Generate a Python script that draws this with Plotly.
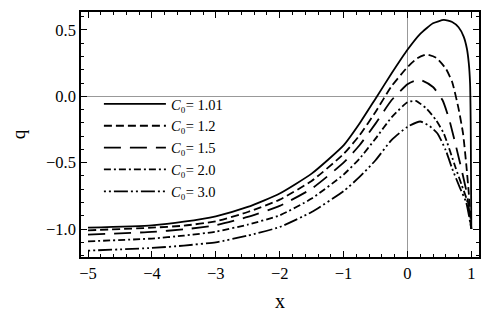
import plotly.graph_objects as go

# ---- data ----
x_101 = [-5, -4, -3.5, -3, -2.5, -2, -1.5, -1, -0.75, -0.5, -0.25, 0, 0.2, 0.4, 0.57, 0.7, 0.8, 0.88, 0.93, 0.96, 0.98, 0.99, 0.995, 1.0]
q_101 = [-0.99, -0.972, -0.945, -0.904, -0.834, -0.733, -0.583, -0.37, -0.205, -0.018, 0.171, 0.35, 0.47, 0.55, 0.575, 0.56, 0.52, 0.45, 0.36, 0.25, 0.1, -0.2, -0.6, -1.0]

x_12 = [-5, -4, -3.5, -3, -2.5, -2, -1.5, -1, -0.75, -0.5, -0.25, 0, 0.15, 0.3, 0.45, 0.6, 0.7, 0.8, 0.87, 0.92, 0.96, 1.0]
q_12 = [-1.01, -0.99, -0.975, -0.942, -0.872, -0.779, -0.638, -0.435, -0.294, -0.118, 0.075, 0.22, 0.285, 0.315, 0.29, 0.209, 0.108, -0.093, -0.28, -0.51, -0.73, -1.0]

x_15 = [-5, -4, -3.5, -3, -2.5, -2, -1.5, -1, -0.75, -0.5, -0.25, 0, 0.1, 0.22, 0.4, 0.55, 0.65, 0.75, 0.85, 0.93, 1.0]
q_15 = [-1.042, -1.022, -1.003, -0.972, -0.909, -0.826, -0.696, -0.5, -0.369, -0.206, -0.03, 0.09, 0.115, 0.12, 0.07, -0.03, -0.168, -0.357, -0.558, -0.733, -1.0]

x_20 = [-5, -4, -3.5, -3, -2.5, -2, -1.5, -1, -0.75, -0.5, -0.25, 0, 0.13, 0.3, 0.45, 0.57, 0.75, 0.85, 0.93, 1.0]
q_20 = [-1.093, -1.072, -1.05, -1.02, -0.967, -0.897, -0.771, -0.59, -0.47, -0.319, -0.16, -0.045, -0.035, -0.093, -0.181, -0.281, -0.533, -0.67, -0.78, -1.0]

x_30 = [-5, -4, -3.5, -3, -2.5, -2, -1.5, -1, -0.75, -0.5, -0.25, 0, 0.2, 0.35, 0.47, 0.6, 0.7, 0.82, 0.92, 1.0]
q_30 = [-1.163, -1.143, -1.125, -1.1, -1.05, -0.985, -0.872, -0.715, -0.608, -0.482, -0.33, -0.23, -0.19, -0.226, -0.28, -0.407, -0.545, -0.688, -0.8, -1.0]

labels = ["1.01", "1.2", "1.5", "2.0", "3.0"]
xs = [x_101, x_12, x_15, x_20, x_30]
qs = [q_101, q_12, q_15, q_20, q_30]
dashes = ["solid", "8px,4px", "17px,9px", "7px,3px,2px,3px", "2px,3px,2px,3px,14px,3px"]

x_ticks = [-5, -4, -3, -2, -1, 0, 1]
y_ticks = [0.5, 0.0, -0.5, -1.0]

FONT = "Liberation Serif, Times New Roman, serif"

fig = go.Figure()
for lab, x, q, d in zip(labels, xs, qs, dashes):
    fig.add_trace(go.Scatter(
        x=x, y=q, mode="lines",
        line=dict(color="black", width=1.8, dash=d, shape="spline", smoothing=0.5),
        name="<i>C</i>\u2080= " + lab,
    ))

axis_common = dict(
    showline=True, linecolor="black", linewidth=1.5, mirror="allticks",
    ticks="inside", ticklen=6, tickwidth=1, tickcolor="black",
    showgrid=False, zeroline=True, zerolinecolor="#999999", zerolinewidth=1,
    tickfont=dict(family=FONT, size=16.5, color="black"),
    automargin=False,
)

fig.update_xaxes(
    range=[-5.11, 1.12], tickvals=x_ticks,
    minor=dict(ticks="inside", dtick=0.2, ticklen=3, tickcolor="black", tickwidth=1),
    title=dict(text="x", font=dict(family=FONT, size=20, color="black"), standoff=12),
    **axis_common,
)
fig.update_yaxes(
    range=[-1.211, 0.635], tickvals=y_ticks, tickformat=".1f",
    minor=dict(ticks="inside", dtick=0.1, ticklen=3, tickcolor="black", tickwidth=1),
    title=dict(text="q", font=dict(family=FONT, size=19, color="black"), standoff=26),
    **axis_common,
)

fig.update_layout(
    width=491, height=319,
    margin=dict(l=73, r=20, t=4, b=70),
    paper_bgcolor="white", plot_bgcolor="white",
    showlegend=True,
    legend=dict(
        x=0.045, y=0.69, xanchor="left", yanchor="top",
        bgcolor="rgba(0,0,0,0)", borderwidth=0,
        font=dict(family=FONT, size=14.5, color="black"),
        itemwidth=62, tracegroupgap=0,
    ),
)

fig.write_html("out.html")
